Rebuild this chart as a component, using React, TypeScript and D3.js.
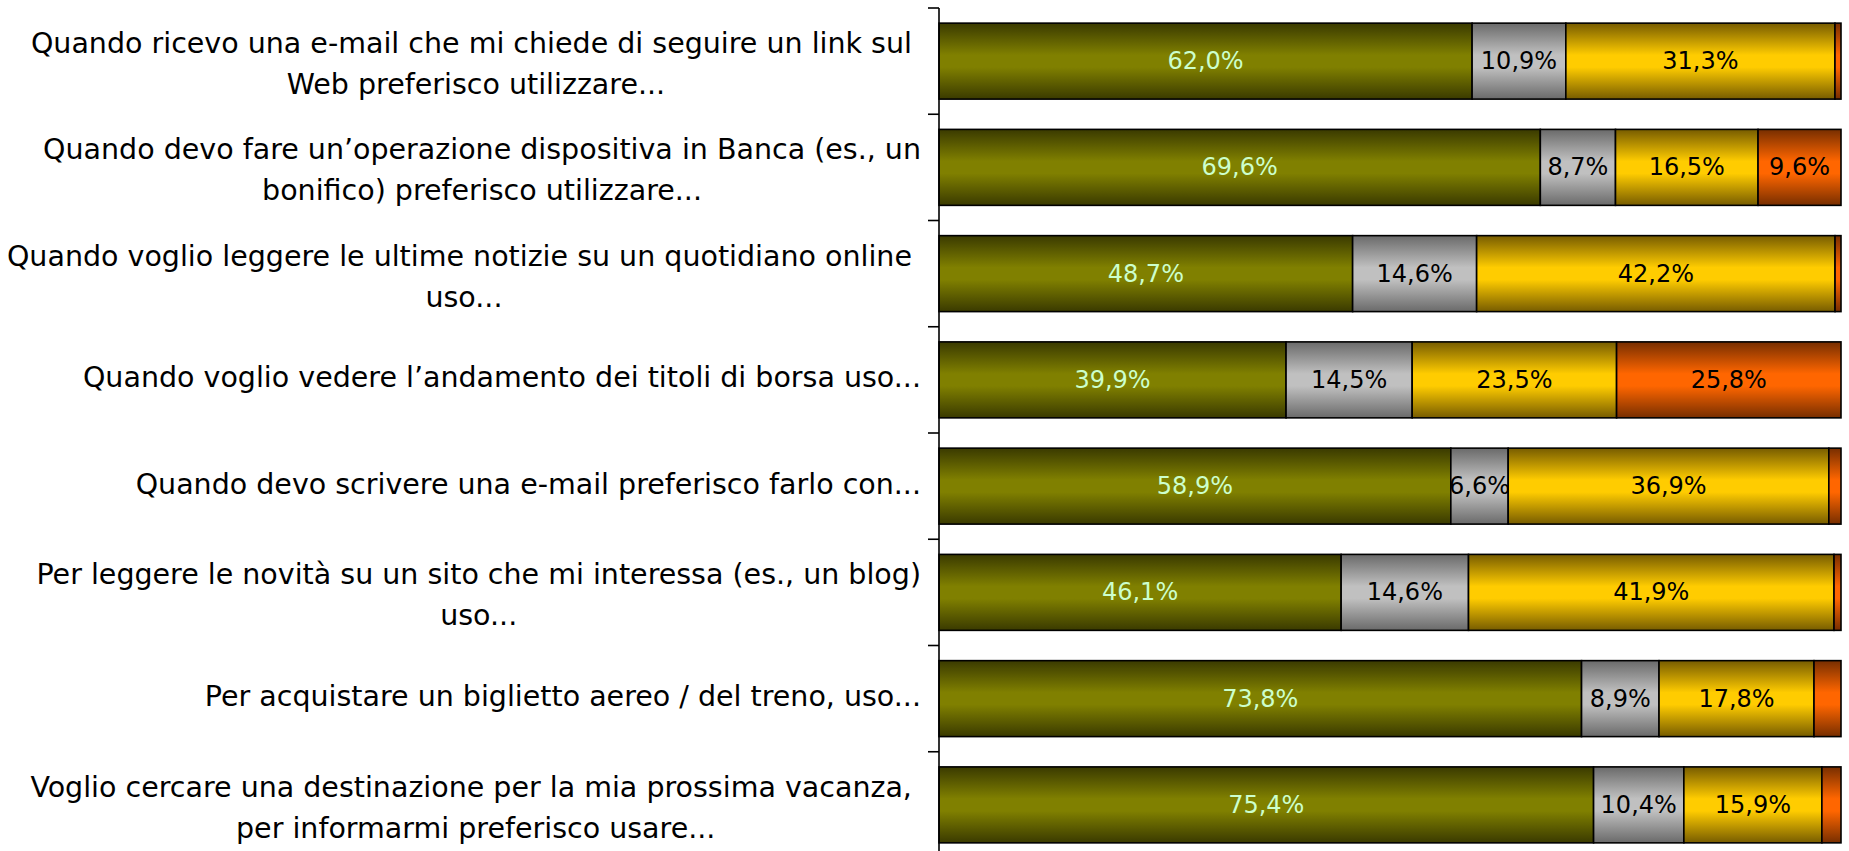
import React, { useEffect, useRef } from "react";
import * as d3 from "d3";

const categories: string[][] = [
  ["Quando ricevo una e-mail che mi chiede di seguire un link sul ", "Web preferisco utilizzare..."],
  ["Quando devo fare un\u2019operazione dispositiva in Banca (es., un", "bonifico) preferisco utilizzare..."],
  ["Quando voglio leggere le ultime notizie su un quotidiano online ", "uso..."],
  ["Quando voglio vedere l\u2019andamento dei titoli di borsa uso..."],
  ["Quando devo scrivere una e-mail preferisco farlo con..."],
  ["Per leggere le novit\u00e0 su un sito che mi interessa (es., un blog)", "uso..."],
  ["Per acquistare un biglietto aereo / del treno, uso..."],
  ["Voglio cercare una destinazione per la mia prossima vacanza, ", "per informarmi preferisco usare..."],
];

const series1: number[] = [62.0, 69.6, 48.7, 39.9, 58.9, 46.1, 73.8, 75.4];
const series2: number[] = [10.9, 8.7, 14.6, 14.5, 6.6, 14.6, 8.9, 10.4];
const series3: number[] = [31.3, 16.5, 42.2, 23.5, 36.9, 41.9, 17.8, 15.9];
const series4: number[] = [0.7, 9.6, 0.7, 25.8, 1.4, 0.8, 3.1, 2.2];

const seriesList = [series1, series2, series3, series4];
const seriesColors = [
  { dark: "#3a3a00", light: "#808000", text: "#ccffcc" },
  { dark: "#6a6a6a", light: "#c0c0c0", text: "#000000" },
  { dark: "#775c00", light: "#ffcc00", text: "#000000" },
  { dark: "#772e00", light: "#ff6600", text: "#000000" },
];

const W = 1849;
const H = 851;
const FONT = "'DejaVu Sans', Verdana, sans-serif";

export default function App() {
  const ref = useRef<SVGSVGElement>(null);

  useEffect(() => {
    const svg = d3.select(ref.current);
    svg.selectAll("*").remove();

    const axisX = 939;
    const right = 1841;
    const keys = categories.map((_, i) => String(i));
    const y = d3
      .scaleBand<string>()
      .domain(keys)
      .range([8, 858])
      .paddingInner(0.285)
      .paddingOuter(0.1425);
    const step = y.step();
    const bw = y.bandwidth();

    const defs = svg.append("defs");
    seriesColors.forEach((c, k) => {
      const g = defs
        .append("linearGradient")
        .attr("id", `grad${k}`)
        .attr("x1", 0)
        .attr("y1", 0)
        .attr("x2", 0)
        .attr("y2", 1);
      g.append("stop").attr("offset", "0%").attr("stop-color", c.dark);
      g.append("stop").attr("offset", "42%").attr("stop-color", c.light);
      g.append("stop").attr("offset", "58%").attr("stop-color", c.light);
      g.append("stop").attr("offset", "100%").attr("stop-color", c.dark);
    });

    const bars = svg.append("g");
    const labels = svg.append("g");

    keys.forEach((key, i) => {
      const vals = seriesList.map((s) => s[i]);
      const total = d3.sum(vals);
      const x = d3.scaleLinear().domain([0, total]).range([axisX, right]);
      let acc = 0;
      vals.forEach((v, k) => {
        const x0 = x(acc);
        const x1 = x(acc + v);
        acc += v;
        const y0 = y(key)!;
        const cid = `clip-${i}-${k}`;
        defs
          .append("clipPath")
          .attr("id", cid)
          .append("rect")
          .attr("x", x0)
          .attr("y", y0)
          .attr("width", x1 - x0)
          .attr("height", bw);
        bars
          .append("rect")
          .attr("x", x0)
          .attr("y", y0)
          .attr("width", x1 - x0)
          .attr("height", bw)
          .attr("fill", `url(#grad${k})`)
          .attr("stroke", "#000")
          .attr("stroke-width", 1.6);
        if (v >= 5) {
          labels
            .append("text")
            .attr("clip-path", `url(#${cid})`)
            .attr("x", (x0 + x1) / 2)
            .attr("y", y0 + bw / 2)
            .attr("text-anchor", "middle")
            .attr("dominant-baseline", "central")
            .attr("font-family", FONT)
            .attr("font-size", 24)
            .attr("fill", seriesColors[k].text)
            .text(d3.format(".1f")(v).replace(".", ",") + "%");
        }
      });
    });

    // axis
    const ax = svg.append("g");
    ax.append("line")
      .attr("x1", axisX)
      .attr("x2", axisX)
      .attr("y1", 8)
      .attr("y2", 858)
      .attr("stroke", "#000")
      .attr("stroke-width", 1.6);
    for (let i = 0; i <= keys.length; i++) {
      const ty = 8 + i * step;
      ax.append("line")
        .attr("x1", axisX - 11)
        .attr("x2", axisX)
        .attr("y1", ty)
        .attr("y2", ty)
        .attr("stroke", "#000")
        .attr("stroke-width", 1.6);
    }

    // category labels
    const labelRight = 921;
    const lineH = 41;
    const cat = svg.append("g");
    categories.forEach((lines, i) => {
      const cy = y(String(i))! + bw / 2 + (lines.length > 1 ? 3 : -2);
      const texts = lines.map((ln, j) =>
        cat
          .append("text")
          .attr("y", cy + (j - (lines.length - 1) / 2) * lineH)
          .attr("text-anchor", "middle")
          .attr("dominant-baseline", "central")
          .attr("font-family", FONT)
          .attr("font-size", 28.5)
          .attr("fill", "#000")
          .style("white-space", "pre")
          .text(ln)
      );
      const widths = texts.map((t) => (t.node() as SVGTextElement).getComputedTextLength());
      const maxW = d3.max(widths) || 0;
      const cx = labelRight - maxW / 2;
      texts.forEach((t) => t.attr("x", cx));
    });
  }, []);

  return (
    <svg
      ref={ref}
      width={W}
      height={H}
      style={{ position: "absolute", left: 0, top: 0, background: "#fff" }}
    />
  );
}
